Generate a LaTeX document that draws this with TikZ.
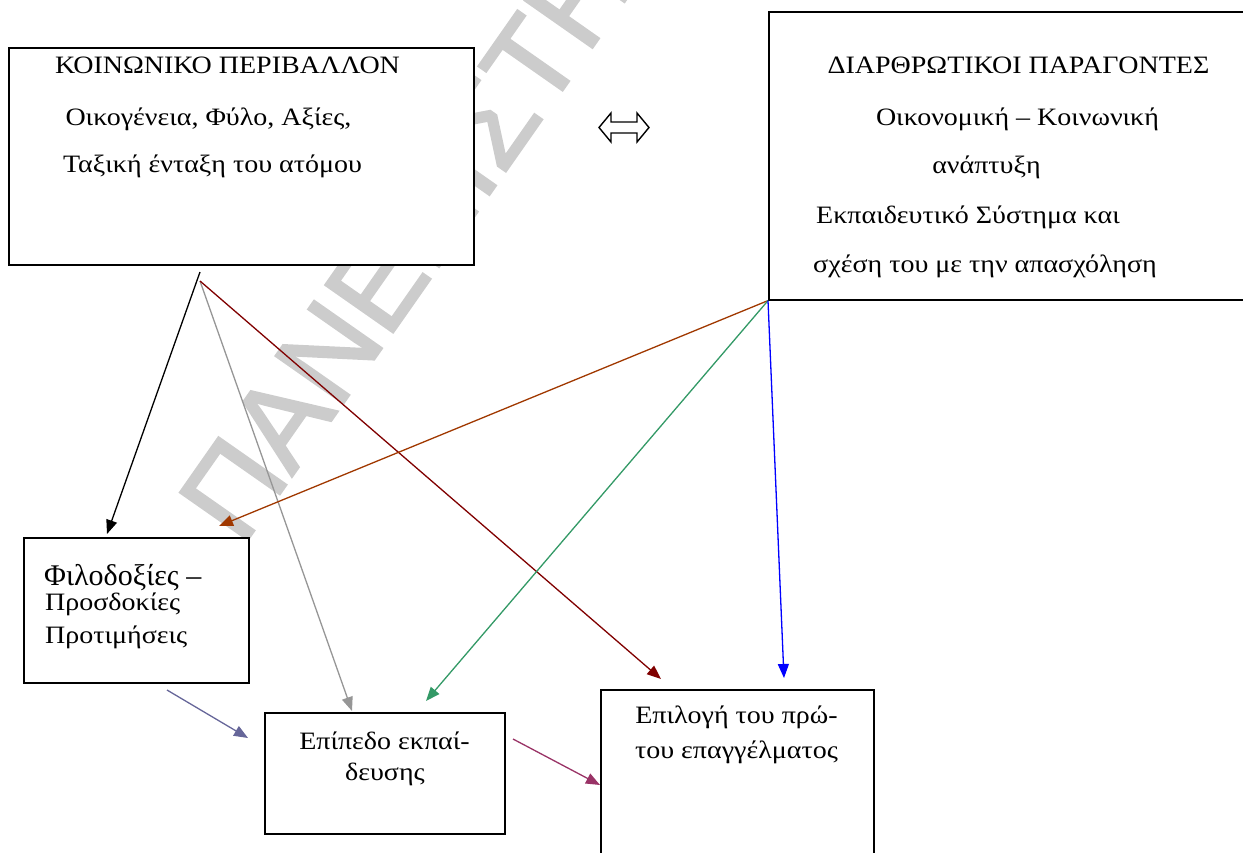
\documentclass[tikz,border=0pt]{standalone}
\usepackage{fontspec}
\setmainfont{Liberation Serif}
\newfontfamily\pal[FakeStretch=1.12]{Liberation Serif}
\newfontfamily\tnr{Liberation Serif}
\newfontfamily\wmfont[FakeBold=2]{Liberation Sans}
\usetikzlibrary{arrows.meta}
\definecolor{wmgray}{RGB}{204,204,204}
\definecolor{cgray}{RGB}{150,150,150}
\definecolor{cdred}{RGB}{128,0,0}
\definecolor{cbrown}{RGB}{160,56,0}
\definecolor{cgreen}{RGB}{51,153,102}
\definecolor{cblue}{RGB}{0,0,255}
\definecolor{cpurple}{RGB}{102,102,153}
\definecolor{cmag}{RGB}{153,51,102}
\tikzset{
  box/.style={draw=black, fill=white, line width=1.6pt, anchor=north west, inner sep=0pt},
  txt/.style={anchor=base, inner sep=0pt, font=\pal\fontsize{25}{30}\selectfont},
  txtl/.style={anchor=base west, inner sep=0pt, font=\pal\fontsize{25}{30}\selectfont},
  conn/.style={line width=1.3pt, -{Triangle[length=14pt,width=11pt]}},
  wm/.style={anchor=base west, inner sep=0pt, text=wmgray, font=\wmfont\fontsize{120}{120}\selectfont}
}
\begin{document}
\begin{tikzpicture}[x=1pt,y=-1pt]
\useasboundingbox (0,0) rectangle (1243,852);
\clip (0,0) rectangle (1243,852);
% watermark
\node[wm, rotate=55] (wmark) at (242,548) {ΠΑΝΕΠΙΣΤΗΜΙΟ};
% boxes
\node[box, minimum width=465pt, minimum height=217pt] (A) at (8,47) {};
\node[box, minimum width=500pt, minimum height=288pt] (B) at (768,11) {};
\node[box, minimum width=225pt, minimum height=145pt] (C) at (23,537) {};
\node[box, minimum width=240pt, minimum height=121pt] (D) at (264,712) {};
\node[box, minimum width=273pt, minimum height=220pt] (E) at (600,689) {};
% texts box A
\node[txt] (a1) at (227.5,73) {ΚΟΙΝΩΝΙΚΟ ΠΕΡΙΒΑΛΛΟΝ};
\node[txt] (a2) at (208.5,125) {Οικογένεια, Φύλο, Αξίες,};
\node[txt] (a3) at (212.5,172) {Ταξική ένταξη του ατόμου};
% texts box B
\node[txt] (b1) at (1018.5,73) {ΔΙΑΡΘΡΩΤΙΚΟΙ ΠΑΡΑΓΟΝΤΕΣ};
\node[txt] (b2) at (1017.5,125) {Οικονομική – Κοινωνική};
\node[txt] (b3) at (986.5,173) {ανάπτυξη};
\node[txt] (b4) at (968,223) {Εκπαιδευτικό Σύστημα και};
\node[txt] (b5) at (985,272) {σχέση του με την απασχόληση};
% texts box C
\node[anchor=base west, inner sep=0pt, font=\tnr\fontsize{30}{30}\selectfont] (c1) at (44,585) {Φιλοδοξίες –};
\node[txtl] (c2) at (45,610) {Προσδοκίες};
\node[txtl] (c3) at (45,643) {Προτιμήσεις};
% texts box D
\node[txt] (d1) at (384.5,749) {Επίπεδο εκπαί-};
\node[txt] (d2) at (385,780) {δευσης};
% texts box E
\node[txt] (e1) at (736.5,723) {Επιλογή του πρώ-};
\node[txt] (e2) at (736.5,758) {του επαγγέλματος};
% double arrow symbol
\coordinate (dbl) at (624,127.5);
\draw[line width=1.4pt, line join=miter, shift={(dbl)}]
  (-25,0) -- (-13,-14.5) -- (-13,-5.5) -- (13,-5.5) -- (13,-14.5) -- (25,0)
  -- (13,14.5) -- (13,5.5) -- (-13,5.5) -- (-13,14.5) -- cycle;
% connector end points
\coordinate (sBlack) at (200,272);
\coordinate (sA) at (200,281);
\coordinate (tBlack) at (107,534);
\coordinate (tGray) at (352,711);
\coordinate (tDred) at (661,679);
\coordinate (tBrown) at (219,526);
\coordinate (tGreen) at (426,701);
\coordinate (tBlue) at (784,678);
\coordinate (sPurple) at (167,690);
\coordinate (tPurple) at (248,738);
\coordinate (sMag) at (513,739);
\coordinate (tMag) at (600,785);
% connectors
\draw[conn, black] (sBlack) -- (tBlack);
\draw[conn, cgray] (sA) -- (tGray);
\draw[conn, cdred] (sA) -- (tDred);
\draw[conn, cbrown] (B.south west) -- (tBrown);
\draw[conn, cgreen] (B.south west) -- (tGreen);
\draw[conn, cblue] (B.south west) -- (tBlue);
\draw[conn, cpurple] (sPurple) -- (tPurple);
\draw[conn, cmag] (sMag) -- (tMag);
\end{tikzpicture}
\end{document}
